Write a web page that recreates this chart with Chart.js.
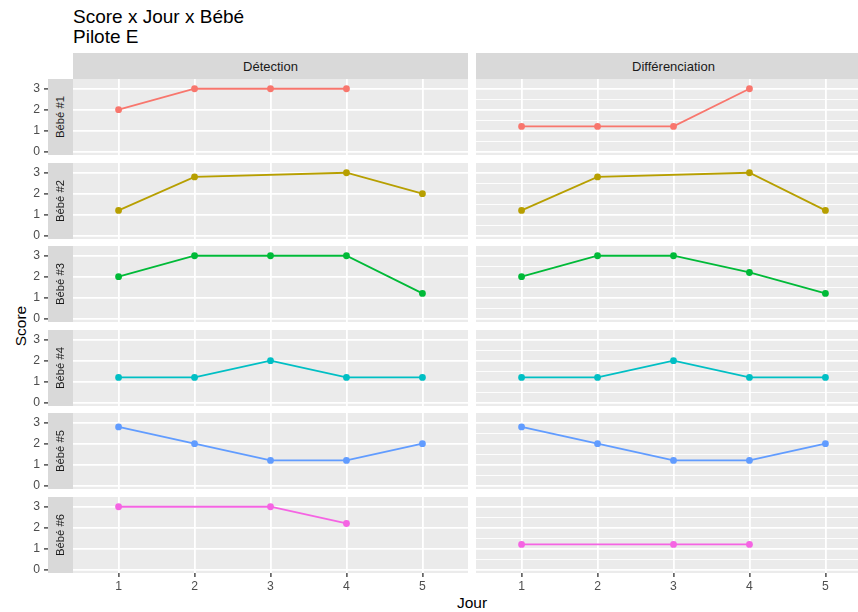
<!DOCTYPE html>
<html><head><meta charset="utf-8">
<script src="https://cdn.jsdelivr.net/npm/chart.js@4"></script>
<style>
html,body{margin:0;padding:0;background:#fff;width:858px;height:612px;overflow:hidden;position:relative;font-family:"Liberation Sans",Arial,sans-serif;}
.box{position:absolute;}
.strip{position:absolute;background:#D9D9D9;color:#1A1A1A;display:flex;align-items:center;justify-content:center;z-index:5;}
.rot{transform:rotate(-90deg);white-space:nowrap;}
.txt{position:absolute;white-space:nowrap;color:#000;}
</style></head><body>
<script>
// ---- data ----
const days = [1, 2, 3, 4, 5];
const tasks = ['Détection', 'Différenciation'];
const babies = ['Bébé #1', 'Bébé #2', 'Bébé #3', 'Bébé #4', 'Bébé #5', 'Bébé #6'];
const yTicks = [0, 1, 2, 3];
const yMinorTicks = [0.5, 1.5, 2.5];

const detectionB1 = [2, 3, 3, 3, null];
const detectionB2 = [1.2, 2.8, null, 3, 2];
const detectionB3 = [2, 3, 3, 3, 1.2];
const detectionB4 = [1.2, 1.2, 2, 1.2, 1.2];
const detectionB5 = [2.8, 2, 1.2, 1.2, 2];
const detectionB6 = [3, null, 3, 2.2, null];

const differenciationB1 = [1.2, 1.2, 1.2, 3, null];
const differenciationB2 = [1.2, 2.8, null, 3, 1.2];
const differenciationB3 = [2, 3, 3, 2.2, 1.2];
const differenciationB4 = [1.2, 1.2, 2, 1.2, 1.2];
const differenciationB5 = [2.8, 2, 1.2, 1.2, 2];
const differenciationB6 = [1.2, null, 1.2, 1.2, null];

const babyColors = ['#F8766D', '#B79F00', '#00BA38', '#00BFC4', '#619CFF', '#F564E3'];

const seriesByTask = [
  [detectionB1, detectionB2, detectionB3, detectionB4, detectionB5, detectionB6],
  [differenciationB1, differenciationB2, differenciationB3, differenciationB4, differenciationB5, differenciationB6]
];

// ---- layout ----
const FONT = '"Liberation Sans", Arial, sans-serif';
const panelTops = [79, 163, 246, 330, 413, 497];
const panelH = 76;
const colLeft = [73, 476];
const panelW = 395;
const yAxisW = 73;
const xAxisH = 22;

function addText(txt, css) {
  const d = document.createElement('div');
  d.className = 'txt';
  d.textContent = txt;
  Object.assign(d.style, css);
  document.body.appendChild(d);
  return d;
}

// titles
addText('Score x Jour x Bébé', {left: '73px', top: '6.7px', fontSize: '19px', lineHeight: '20px'});
addText('Pilote E', {left: '73px', top: '26.7px', fontSize: '19px', lineHeight: '20px'});
// axis titles
addText('Jour', {left: '372px', width: '200px', textAlign: 'center', top: '593.6px', fontSize: '15.5px', lineHeight: '18px'});
addText('Score', {left: '-29px', width: '100px', textAlign: 'center', top: '317px', fontSize: '15.5px', lineHeight: '18px', transform: 'rotate(-90deg)'});

// column strips
tasks.forEach((t, c) => {
  const s = document.createElement('div');
  s.className = 'strip';
  Object.assign(s.style, {left: colLeft[c] + 'px', top: '53px', width: panelW + 'px', height: '26px', fontSize: '13px'});
  s.textContent = t;
  document.body.appendChild(s);
});
// row strips
babies.forEach((b, r) => {
  const s = document.createElement('div');
  s.className = 'strip';
  Object.assign(s.style, {left: '48px', top: panelTops[r] + 'px', width: '25px', height: panelH + 'px', fontSize: '11.3px'});
  const inner = document.createElement('div');
  inner.className = 'rot';
  inner.textContent = b;
  s.appendChild(inner);
  document.body.appendChild(s);
});

const bgPlugin = {
  id: 'panelBg',
  beforeDraw(chart) {
    const a = chart.chartArea, ctx = chart.ctx;
    ctx.save();
    ctx.fillStyle = '#EBEBEB';
    ctx.fillRect(a.left, a.top, a.right - a.left, a.bottom - a.top);
    ctx.restore();
  }
};

for (let c = 0; c < 2; c++) {
  for (let r = 0; r < 6; r++) {
    const last = r === 5;
    const first = c === 0;
    const w = first ? colLeft[0] + panelW : panelW;
    const h = panelH + (last ? xAxisH : 0);
    const box = document.createElement('div');
    box.className = 'box';
    Object.assign(box.style, {left: (first ? 0 : colLeft[1]) + 'px', top: panelTops[r] + 'px', width: w + 'px', height: h + 'px'});
    const cv = document.createElement('canvas');
    cv.width = w; cv.height = h;
    cv.style.width = w + 'px'; cv.style.height = h + 'px';
    box.appendChild(cv);
    document.body.appendChild(box);

    const vals = seriesByTask[c][r];
    const col = babyColors[r];
    new Chart(cv, {
      type: 'line',
      data: {
        datasets: [{
          data: days.map((d, i) => ({x: d, y: vals[i]})),
          borderColor: col,
          backgroundColor: col,
          pointBackgroundColor: col,
          pointBorderWidth: 0,
          pointRadius: 3.4,
          borderWidth: 1.8,
          spanGaps: true,
          tension: 0
        }]
      },
      options: {
        responsive: false,
        animation: false,
        events: [],
        devicePixelRatio: 1,
        layout: {padding: 0, autoPadding: false},
        plugins: {legend: {display: false}, tooltip: {enabled: false}},
        scales: {
          x: {
            type: 'linear', min: 0.4, max: 5.6,
            afterBuildTicks: s => { s.ticks = days.map(v => ({value: v})); },
            afterFit: s => { s.height = last ? xAxisH : 0; s.paddingLeft = 0; s.paddingRight = 0; },
            border: {display: false},
            grid: {color: '#FFFFFF', lineWidth: 1.8, drawTicks: last, tickLength: 4, tickColor: '#333333', tickWidth: 1.3},
            ticks: {display: last, padding: 2.5, color: '#4D4D4D', font: {size: 12.2, family: FONT}, maxRotation: 0, autoSkip: false,
                    callback: v => String(v)}
          },
          y: {
            type: 'linear', min: -0.165, max: 3.465,
            afterBuildTicks: s => { s.ticks = [...yTicks, ...yMinorTicks].sort((a, b) => a - b).map(v => ({value: v})); },
            afterFit: s => { s.width = first ? yAxisW : 0; s.paddingTop = 0; s.paddingBottom = 0; },
            border: {display: false},
            grid: {
              color: '#FFFFFF',
              lineWidth: ctx => yTicks.includes(ctx.tick.value) ? 1.8 : 0.9,
              drawTicks: first, tickLength: 29,
              tickColor: ctx => yTicks.includes(ctx.tick.value) ? '#333333' : 'rgba(0,0,0,0)',
              tickWidth: 1.3
            },
            ticks: {display: first, padding: 4, color: '#4D4D4D', font: {size: 12.2, family: FONT},
                    callback: v => yTicks.includes(v) ? String(v) : ''}
          }
        }
      },
      plugins: [bgPlugin]
    });
  }
}
</script>
</body></html>
